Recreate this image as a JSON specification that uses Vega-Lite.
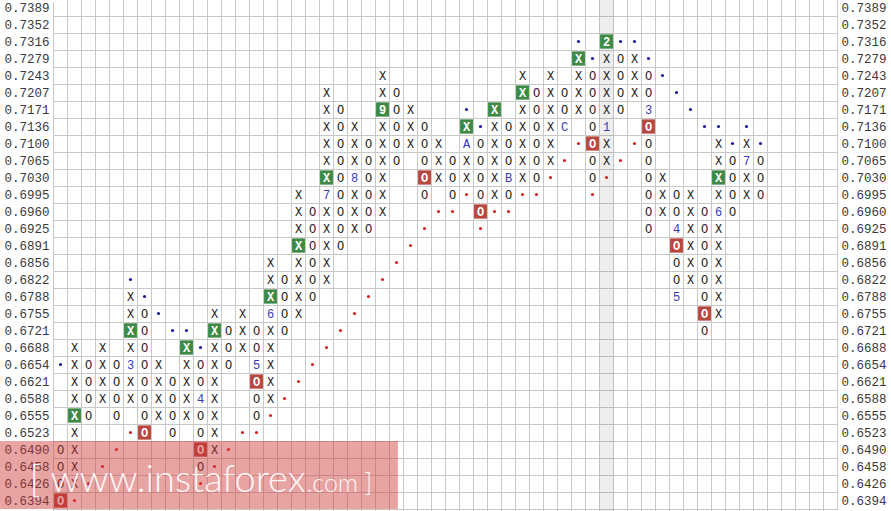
{
"$schema":"https://vega.github.io/schema/vega-lite/v6.json",
"width":891,"height":511,"autosize":{"type":"none"},"padding":0,"background":"white",
"config":{"view":{"stroke":null}},
"datasets":{
"hl":[{"c":39}],
"cells":[
{"c":0,"p":"0.6490","s":"O","k":"n"},{"c":0,"p":"0.6458","s":"O","k":"n"},{"c":0,"p":"0.6426","s":"O","k":"n"},{"c":0,"p":"0.6394","s":"O","k":"r"},
{"c":1,"p":"0.6688","s":"X","k":"n"},{"c":1,"p":"0.6654","s":"X","k":"n"},{"c":1,"p":"0.6621","s":"X","k":"n"},{"c":1,"p":"0.6588","s":"X","k":"n"},{"c":1,"p":"0.6555","s":"X","k":"g"},{"c":1,"p":"0.6523","s":"X","k":"n"},{"c":1,"p":"0.6490","s":"X","k":"n"},{"c":1,"p":"0.6458","s":"X","k":"n"},{"c":1,"p":"0.6426","s":"X","k":"n"},
{"c":2,"p":"0.6654","s":"O","k":"n"},{"c":2,"p":"0.6621","s":"O","k":"n"},{"c":2,"p":"0.6588","s":"O","k":"n"},{"c":2,"p":"0.6555","s":"O","k":"n"},
{"c":3,"p":"0.6688","s":"X","k":"n"},{"c":3,"p":"0.6654","s":"X","k":"n"},{"c":3,"p":"0.6621","s":"X","k":"n"},{"c":3,"p":"0.6588","s":"X","k":"n"},
{"c":4,"p":"0.6654","s":"O","k":"n"},{"c":4,"p":"0.6621","s":"O","k":"n"},{"c":4,"p":"0.6588","s":"O","k":"n"},{"c":4,"p":"0.6555","s":"O","k":"n"},
{"c":5,"p":"0.6788","s":"X","k":"n"},{"c":5,"p":"0.6755","s":"X","k":"n"},{"c":5,"p":"0.6721","s":"X","k":"g"},{"c":5,"p":"0.6688","s":"X","k":"n"},{"c":5,"p":"0.6654","s":"3","k":"m"},{"c":5,"p":"0.6621","s":"X","k":"n"},{"c":5,"p":"0.6588","s":"X","k":"n"},
{"c":6,"p":"0.6755","s":"O","k":"n"},{"c":6,"p":"0.6721","s":"O","k":"n"},{"c":6,"p":"0.6688","s":"O","k":"n"},{"c":6,"p":"0.6654","s":"O","k":"n"},{"c":6,"p":"0.6621","s":"O","k":"n"},{"c":6,"p":"0.6588","s":"O","k":"n"},{"c":6,"p":"0.6555","s":"O","k":"n"},{"c":6,"p":"0.6523","s":"O","k":"r"},
{"c":7,"p":"0.6654","s":"X","k":"n"},{"c":7,"p":"0.6621","s":"X","k":"n"},{"c":7,"p":"0.6588","s":"X","k":"n"},{"c":7,"p":"0.6555","s":"X","k":"n"},
{"c":8,"p":"0.6621","s":"O","k":"n"},{"c":8,"p":"0.6588","s":"O","k":"n"},{"c":8,"p":"0.6555","s":"O","k":"n"},{"c":8,"p":"0.6523","s":"O","k":"n"},
{"c":9,"p":"0.6688","s":"X","k":"g"},{"c":9,"p":"0.6654","s":"X","k":"n"},{"c":9,"p":"0.6621","s":"X","k":"n"},{"c":9,"p":"0.6588","s":"X","k":"n"},{"c":9,"p":"0.6555","s":"X","k":"n"},
{"c":10,"p":"0.6654","s":"O","k":"n"},{"c":10,"p":"0.6621","s":"O","k":"n"},{"c":10,"p":"0.6588","s":"4","k":"m"},{"c":10,"p":"0.6555","s":"O","k":"n"},{"c":10,"p":"0.6523","s":"O","k":"n"},{"c":10,"p":"0.6490","s":"O","k":"r"},{"c":10,"p":"0.6458","s":"O","k":"n"},
{"c":11,"p":"0.6755","s":"X","k":"n"},{"c":11,"p":"0.6721","s":"X","k":"g"},{"c":11,"p":"0.6688","s":"X","k":"n"},{"c":11,"p":"0.6654","s":"X","k":"n"},{"c":11,"p":"0.6621","s":"X","k":"n"},{"c":11,"p":"0.6588","s":"X","k":"n"},{"c":11,"p":"0.6555","s":"X","k":"n"},{"c":11,"p":"0.6523","s":"X","k":"n"},{"c":11,"p":"0.6490","s":"X","k":"n"},
{"c":12,"p":"0.6721","s":"O","k":"n"},{"c":12,"p":"0.6688","s":"O","k":"n"},{"c":12,"p":"0.6654","s":"O","k":"n"},
{"c":13,"p":"0.6755","s":"X","k":"n"},{"c":13,"p":"0.6721","s":"X","k":"n"},{"c":13,"p":"0.6688","s":"X","k":"n"},
{"c":14,"p":"0.6721","s":"O","k":"n"},{"c":14,"p":"0.6688","s":"O","k":"n"},{"c":14,"p":"0.6654","s":"5","k":"m"},{"c":14,"p":"0.6621","s":"O","k":"r"},{"c":14,"p":"0.6588","s":"O","k":"n"},{"c":14,"p":"0.6555","s":"O","k":"n"},
{"c":15,"p":"0.6856","s":"X","k":"n"},{"c":15,"p":"0.6822","s":"X","k":"n"},{"c":15,"p":"0.6788","s":"X","k":"g"},{"c":15,"p":"0.6755","s":"6","k":"m"},{"c":15,"p":"0.6721","s":"X","k":"n"},{"c":15,"p":"0.6688","s":"X","k":"n"},{"c":15,"p":"0.6654","s":"X","k":"n"},{"c":15,"p":"0.6621","s":"X","k":"n"},{"c":15,"p":"0.6588","s":"X","k":"n"},
{"c":16,"p":"0.6822","s":"O","k":"n"},{"c":16,"p":"0.6788","s":"O","k":"n"},{"c":16,"p":"0.6755","s":"O","k":"n"},{"c":16,"p":"0.6721","s":"O","k":"n"},
{"c":17,"p":"0.6995","s":"X","k":"n"},{"c":17,"p":"0.6960","s":"X","k":"n"},{"c":17,"p":"0.6925","s":"X","k":"n"},{"c":17,"p":"0.6891","s":"X","k":"g"},{"c":17,"p":"0.6856","s":"X","k":"n"},{"c":17,"p":"0.6822","s":"X","k":"n"},{"c":17,"p":"0.6788","s":"X","k":"n"},{"c":17,"p":"0.6755","s":"X","k":"n"},
{"c":18,"p":"0.6960","s":"O","k":"n"},{"c":18,"p":"0.6925","s":"O","k":"n"},{"c":18,"p":"0.6891","s":"O","k":"n"},{"c":18,"p":"0.6856","s":"O","k":"n"},{"c":18,"p":"0.6822","s":"O","k":"n"},{"c":18,"p":"0.6788","s":"O","k":"n"},
{"c":19,"p":"0.7207","s":"X","k":"n"},{"c":19,"p":"0.7171","s":"X","k":"n"},{"c":19,"p":"0.7136","s":"X","k":"n"},{"c":19,"p":"0.7100","s":"X","k":"n"},{"c":19,"p":"0.7065","s":"X","k":"n"},{"c":19,"p":"0.7030","s":"X","k":"g"},{"c":19,"p":"0.6995","s":"7","k":"m"},{"c":19,"p":"0.6960","s":"X","k":"n"},{"c":19,"p":"0.6925","s":"X","k":"n"},{"c":19,"p":"0.6891","s":"X","k":"n"},{"c":19,"p":"0.6856","s":"X","k":"n"},{"c":19,"p":"0.6822","s":"X","k":"n"},
{"c":20,"p":"0.7171","s":"O","k":"n"},{"c":20,"p":"0.7136","s":"O","k":"n"},{"c":20,"p":"0.7100","s":"O","k":"n"},{"c":20,"p":"0.7065","s":"O","k":"n"},{"c":20,"p":"0.7030","s":"O","k":"n"},{"c":20,"p":"0.6995","s":"O","k":"n"},{"c":20,"p":"0.6960","s":"O","k":"n"},{"c":20,"p":"0.6925","s":"O","k":"n"},{"c":20,"p":"0.6891","s":"O","k":"n"},
{"c":21,"p":"0.7136","s":"X","k":"n"},{"c":21,"p":"0.7100","s":"X","k":"n"},{"c":21,"p":"0.7065","s":"X","k":"n"},{"c":21,"p":"0.7030","s":"8","k":"m"},{"c":21,"p":"0.6995","s":"X","k":"n"},{"c":21,"p":"0.6960","s":"X","k":"n"},{"c":21,"p":"0.6925","s":"X","k":"n"},
{"c":22,"p":"0.7100","s":"O","k":"n"},{"c":22,"p":"0.7065","s":"O","k":"n"},{"c":22,"p":"0.7030","s":"O","k":"n"},{"c":22,"p":"0.6995","s":"O","k":"n"},{"c":22,"p":"0.6960","s":"O","k":"n"},{"c":22,"p":"0.6925","s":"O","k":"n"},
{"c":23,"p":"0.7243","s":"X","k":"n"},{"c":23,"p":"0.7207","s":"X","k":"n"},{"c":23,"p":"0.7171","s":"9","k":"g"},{"c":23,"p":"0.7136","s":"X","k":"n"},{"c":23,"p":"0.7100","s":"X","k":"n"},{"c":23,"p":"0.7065","s":"X","k":"n"},{"c":23,"p":"0.7030","s":"X","k":"n"},{"c":23,"p":"0.6995","s":"X","k":"n"},{"c":23,"p":"0.6960","s":"X","k":"n"},
{"c":24,"p":"0.7207","s":"O","k":"n"},{"c":24,"p":"0.7171","s":"O","k":"n"},{"c":24,"p":"0.7136","s":"O","k":"n"},{"c":24,"p":"0.7100","s":"O","k":"n"},{"c":24,"p":"0.7065","s":"O","k":"n"},
{"c":25,"p":"0.7171","s":"X","k":"n"},{"c":25,"p":"0.7136","s":"X","k":"n"},{"c":25,"p":"0.7100","s":"X","k":"n"},
{"c":26,"p":"0.7136","s":"O","k":"n"},{"c":26,"p":"0.7100","s":"O","k":"n"},{"c":26,"p":"0.7065","s":"O","k":"n"},{"c":26,"p":"0.7030","s":"O","k":"r"},{"c":26,"p":"0.6995","s":"O","k":"n"},
{"c":27,"p":"0.7100","s":"X","k":"n"},{"c":27,"p":"0.7065","s":"X","k":"n"},{"c":27,"p":"0.7030","s":"X","k":"n"},
{"c":28,"p":"0.7065","s":"O","k":"n"},{"c":28,"p":"0.7030","s":"O","k":"n"},{"c":28,"p":"0.6995","s":"O","k":"n"},
{"c":29,"p":"0.7136","s":"X","k":"g"},{"c":29,"p":"0.7100","s":"A","k":"m"},{"c":29,"p":"0.7065","s":"X","k":"n"},{"c":29,"p":"0.7030","s":"X","k":"n"},
{"c":30,"p":"0.7100","s":"O","k":"n"},{"c":30,"p":"0.7065","s":"O","k":"n"},{"c":30,"p":"0.7030","s":"O","k":"n"},{"c":30,"p":"0.6995","s":"O","k":"n"},{"c":30,"p":"0.6960","s":"O","k":"r"},
{"c":31,"p":"0.7171","s":"X","k":"g"},{"c":31,"p":"0.7136","s":"X","k":"n"},{"c":31,"p":"0.7100","s":"X","k":"n"},{"c":31,"p":"0.7065","s":"X","k":"n"},{"c":31,"p":"0.7030","s":"X","k":"n"},{"c":31,"p":"0.6995","s":"X","k":"n"},
{"c":32,"p":"0.7136","s":"O","k":"n"},{"c":32,"p":"0.7100","s":"O","k":"n"},{"c":32,"p":"0.7065","s":"O","k":"n"},{"c":32,"p":"0.7030","s":"B","k":"m"},{"c":32,"p":"0.6995","s":"O","k":"n"},
{"c":33,"p":"0.7243","s":"X","k":"n"},{"c":33,"p":"0.7207","s":"X","k":"g"},{"c":33,"p":"0.7171","s":"X","k":"n"},{"c":33,"p":"0.7136","s":"X","k":"n"},{"c":33,"p":"0.7100","s":"X","k":"n"},{"c":33,"p":"0.7065","s":"X","k":"n"},{"c":33,"p":"0.7030","s":"X","k":"n"},
{"c":34,"p":"0.7207","s":"O","k":"n"},{"c":34,"p":"0.7171","s":"O","k":"n"},{"c":34,"p":"0.7136","s":"O","k":"n"},{"c":34,"p":"0.7100","s":"O","k":"n"},{"c":34,"p":"0.7065","s":"O","k":"n"},{"c":34,"p":"0.7030","s":"O","k":"n"},
{"c":35,"p":"0.7243","s":"X","k":"n"},{"c":35,"p":"0.7207","s":"X","k":"n"},{"c":35,"p":"0.7171","s":"X","k":"n"},{"c":35,"p":"0.7136","s":"X","k":"n"},{"c":35,"p":"0.7100","s":"X","k":"n"},{"c":35,"p":"0.7065","s":"X","k":"n"},
{"c":36,"p":"0.7207","s":"O","k":"n"},{"c":36,"p":"0.7171","s":"O","k":"n"},{"c":36,"p":"0.7136","s":"C","k":"m"},
{"c":37,"p":"0.7279","s":"X","k":"g"},{"c":37,"p":"0.7243","s":"X","k":"n"},{"c":37,"p":"0.7207","s":"X","k":"n"},{"c":37,"p":"0.7171","s":"X","k":"n"},
{"c":38,"p":"0.7243","s":"O","k":"n"},{"c":38,"p":"0.7207","s":"O","k":"n"},{"c":38,"p":"0.7171","s":"O","k":"n"},{"c":38,"p":"0.7136","s":"O","k":"n"},{"c":38,"p":"0.7100","s":"O","k":"r"},{"c":38,"p":"0.7065","s":"O","k":"n"},{"c":38,"p":"0.7030","s":"O","k":"n"},
{"c":39,"p":"0.7316","s":"2","k":"g"},{"c":39,"p":"0.7279","s":"X","k":"n"},{"c":39,"p":"0.7243","s":"X","k":"n"},{"c":39,"p":"0.7207","s":"X","k":"n"},{"c":39,"p":"0.7171","s":"X","k":"n"},{"c":39,"p":"0.7136","s":"1","k":"m"},{"c":39,"p":"0.7100","s":"X","k":"n"},{"c":39,"p":"0.7065","s":"X","k":"n"},
{"c":40,"p":"0.7279","s":"O","k":"n"},{"c":40,"p":"0.7243","s":"O","k":"n"},{"c":40,"p":"0.7207","s":"O","k":"n"},{"c":40,"p":"0.7171","s":"O","k":"n"},
{"c":41,"p":"0.7279","s":"X","k":"n"},{"c":41,"p":"0.7243","s":"X","k":"n"},{"c":41,"p":"0.7207","s":"X","k":"n"},
{"c":42,"p":"0.7243","s":"O","k":"n"},{"c":42,"p":"0.7207","s":"O","k":"n"},{"c":42,"p":"0.7171","s":"3","k":"m"},{"c":42,"p":"0.7136","s":"O","k":"r"},{"c":42,"p":"0.7100","s":"O","k":"n"},{"c":42,"p":"0.7065","s":"O","k":"n"},{"c":42,"p":"0.7030","s":"O","k":"n"},{"c":42,"p":"0.6995","s":"O","k":"n"},{"c":42,"p":"0.6960","s":"O","k":"n"},{"c":42,"p":"0.6925","s":"O","k":"n"},
{"c":43,"p":"0.7030","s":"X","k":"n"},{"c":43,"p":"0.6995","s":"X","k":"n"},{"c":43,"p":"0.6960","s":"X","k":"n"},
{"c":44,"p":"0.6995","s":"O","k":"n"},{"c":44,"p":"0.6960","s":"O","k":"n"},{"c":44,"p":"0.6925","s":"4","k":"m"},{"c":44,"p":"0.6891","s":"O","k":"r"},{"c":44,"p":"0.6856","s":"O","k":"n"},{"c":44,"p":"0.6822","s":"O","k":"n"},{"c":44,"p":"0.6788","s":"5","k":"m"},
{"c":45,"p":"0.6995","s":"X","k":"n"},{"c":45,"p":"0.6960","s":"X","k":"n"},{"c":45,"p":"0.6925","s":"X","k":"n"},{"c":45,"p":"0.6891","s":"X","k":"n"},{"c":45,"p":"0.6856","s":"X","k":"n"},{"c":45,"p":"0.6822","s":"X","k":"n"},
{"c":46,"p":"0.6960","s":"O","k":"n"},{"c":46,"p":"0.6925","s":"O","k":"n"},{"c":46,"p":"0.6891","s":"O","k":"n"},{"c":46,"p":"0.6856","s":"O","k":"n"},{"c":46,"p":"0.6822","s":"O","k":"n"},{"c":46,"p":"0.6788","s":"O","k":"n"},{"c":46,"p":"0.6755","s":"O","k":"r"},{"c":46,"p":"0.6721","s":"O","k":"n"},
{"c":47,"p":"0.7100","s":"X","k":"n"},{"c":47,"p":"0.7065","s":"X","k":"n"},{"c":47,"p":"0.7030","s":"X","k":"g"},{"c":47,"p":"0.6995","s":"X","k":"n"},{"c":47,"p":"0.6960","s":"6","k":"m"},{"c":47,"p":"0.6925","s":"X","k":"n"},{"c":47,"p":"0.6891","s":"X","k":"n"},{"c":47,"p":"0.6856","s":"X","k":"n"},{"c":47,"p":"0.6822","s":"X","k":"n"},{"c":47,"p":"0.6788","s":"X","k":"n"},{"c":47,"p":"0.6755","s":"X","k":"n"},
{"c":48,"p":"0.7065","s":"O","k":"n"},{"c":48,"p":"0.7030","s":"O","k":"n"},{"c":48,"p":"0.6995","s":"O","k":"n"},{"c":48,"p":"0.6960","s":"O","k":"n"},
{"c":49,"p":"0.7100","s":"X","k":"n"},{"c":49,"p":"0.7065","s":"7","k":"m"},{"c":49,"p":"0.7030","s":"X","k":"n"},{"c":49,"p":"0.6995","s":"X","k":"n"},
{"c":50,"p":"0.7065","s":"O","k":"n"},{"c":50,"p":"0.7030","s":"O","k":"n"},{"c":50,"p":"0.6995","s":"O","k":"n"}
],
"dots":[
{"c":0,"p":"0.6654","k":"b"},{"c":5,"p":"0.6822","k":"b"},{"c":6,"p":"0.6788","k":"b"},{"c":7,"p":"0.6755","k":"b"},{"c":8,"p":"0.6721","k":"b"},{"c":9,"p":"0.6721","k":"b"},{"c":10,"p":"0.6688","k":"b"},{"c":29,"p":"0.7171","k":"b"},{"c":30,"p":"0.7136","k":"b"},{"c":37,"p":"0.7316","k":"b"},{"c":38,"p":"0.7279","k":"b"},{"c":40,"p":"0.7316","k":"b"},{"c":41,"p":"0.7316","k":"b"},{"c":42,"p":"0.7279","k":"b"},{"c":43,"p":"0.7243","k":"b"},{"c":44,"p":"0.7207","k":"b"},{"c":45,"p":"0.7171","k":"b"},{"c":46,"p":"0.7136","k":"b"},{"c":47,"p":"0.7136","k":"b"},{"c":49,"p":"0.7136","k":"b"},{"c":48,"p":"0.7100","k":"b"},{"c":50,"p":"0.7100","k":"b"},
{"c":1,"p":"0.6394","k":"r"},{"c":2,"p":"0.6426","k":"r"},{"c":3,"p":"0.6458","k":"r"},{"c":4,"p":"0.6490","k":"r"},{"c":5,"p":"0.6523","k":"r"},{"c":10,"p":"0.6426","k":"r"},{"c":11,"p":"0.6458","k":"r"},{"c":12,"p":"0.6490","k":"r"},{"c":13,"p":"0.6523","k":"r"},{"c":14,"p":"0.6523","k":"r"},{"c":15,"p":"0.6555","k":"r"},{"c":16,"p":"0.6588","k":"r"},{"c":17,"p":"0.6621","k":"r"},{"c":18,"p":"0.6654","k":"r"},{"c":19,"p":"0.6688","k":"r"},{"c":20,"p":"0.6721","k":"r"},{"c":21,"p":"0.6755","k":"r"},{"c":22,"p":"0.6788","k":"r"},{"c":23,"p":"0.6822","k":"r"},{"c":24,"p":"0.6856","k":"r"},{"c":25,"p":"0.6891","k":"r"},{"c":26,"p":"0.6925","k":"r"},{"c":27,"p":"0.6960","k":"r"},{"c":28,"p":"0.6960","k":"r"},{"c":29,"p":"0.6995","k":"r"},{"c":30,"p":"0.6925","k":"r"},{"c":31,"p":"0.6960","k":"r"},{"c":32,"p":"0.6960","k":"r"},{"c":33,"p":"0.6995","k":"r"},{"c":34,"p":"0.6995","k":"r"},{"c":35,"p":"0.7030","k":"r"},{"c":36,"p":"0.7065","k":"r"},{"c":37,"p":"0.7100","k":"r"},{"c":38,"p":"0.6995","k":"r"},{"c":39,"p":"0.7030","k":"r"},{"c":40,"p":"0.7065","k":"r"},{"c":41,"p":"0.7100","k":"r"}
],
"wm":[{"c":24,"p":"0.6490"},{"c":24,"p":"0.6458"},{"c":24,"p":"0.6426"},{"c":24,"p":"0.6394"}],
"wmt":[{"c":18,"p":"0.6426","t":"[ www.instaforex"}],
"wmt2":[{"c":18,"p":"0.6426","t":".com ]"}]
},
"layer":[
{"data":{"name":"hl"},"mark":{"type":"rect","fill":"#000000","opacity":0.065},
 "encoding":{"x":{"field":"c","type":"ordinal","scale":{"domain":[0,1,2,3,4,5,6,7,8,9,10,11,12,13,14,15,16,17,18,19,20,21,22,23,24,25,26,27,28,29,30,31,32,33,34,35,36,37,38,39,40,41,42,43,44,45,46,47,48,49,50,51,52,53,54,55],"range":[53.5,837.5],"paddingInner":0,"paddingOuter":0},"axis":null}}},
{"data":{"name":"cells"},"transform":[{"filter":"datum.k==='g'||datum.k==='r'"}],
 "mark":{"type":"rect","width":{"band":0.92},"height":{"band":0.84}},
 "encoding":{
  "x":{"field":"c","type":"ordinal","scale":{"domain":[0,1,2,3,4,5,6,7,8,9,10,11,12,13,14,15,16,17,18,19,20,21,22,23,24,25,26,27,28,29,30,31,32,33,34,35,36,37,38,39,40,41,42,43,44,45,46,47,48,49,50,51,52,53,54,55],"range":[53.5,837.5],"paddingInner":0,"paddingOuter":0},"axis":null},
  "y":{"field":"p","type":"ordinal","scale":{"domain":["0.7389","0.7352","0.7316","0.7279","0.7243","0.7207","0.7171","0.7136","0.7100","0.7065","0.7030","0.6995","0.6960","0.6925","0.6891","0.6856","0.6822","0.6788","0.6755","0.6721","0.6688","0.6654","0.6621","0.6588","0.6555","0.6523","0.6490","0.6458","0.6426","0.6394"],"range":[-1,509],"paddingInner":0,"paddingOuter":0},"axis":null},
  "color":{"field":"k","type":"nominal","scale":{"domain":["g","r"],"range":["#3d8a47","#b9463f"]},"legend":null}}},
{"data":{"name":"cells"},"transform":[{"filter":"datum.k==='n'||datum.k==='m'"}],
 "mark":{"type":"text","font":"Liberation Mono","fontSize":12,"baseline":"middle","align":"center"},
 "encoding":{
  "x":{"field":"c","type":"ordinal","scale":{"domain":[0,1,2,3,4,5,6,7,8,9,10,11,12,13,14,15,16,17,18,19,20,21,22,23,24,25,26,27,28,29,30,31,32,33,34,35,36,37,38,39,40,41,42,43,44,45,46,47,48,49,50,51,52,53,54,55],"range":[53.5,837.5],"paddingInner":0,"paddingOuter":0},
   "axis":{"orient":"bottom","bandPosition":0,"grid":true,"gridColor":"#c8c8c8","gridOpacity":1,"gridWidth":1,"labels":false,"ticks":false,"domain":false,"title":null}},
  "y":{"field":"p","type":"ordinal","scale":{"domain":["0.7389","0.7352","0.7316","0.7279","0.7243","0.7207","0.7171","0.7136","0.7100","0.7065","0.7030","0.6995","0.6960","0.6925","0.6891","0.6856","0.6822","0.6788","0.6755","0.6721","0.6688","0.6654","0.6621","0.6588","0.6555","0.6523","0.6490","0.6458","0.6426","0.6394"],"range":[-1,509],"paddingInner":0,"paddingOuter":0},
   "axis":{"orient":"left","bandPosition":1,"grid":true,"gridColor":"#c8c8c8","gridOpacity":1,"gridWidth":1,"ticks":false,"tickSize":0,"domain":false,"labelAlign":"left","labelBaseline":"middle","labelPadding":-4,"labelOffset":0,"labelFont":"Liberation Mono","labelFontSize":12.5,"labelColor":"#3a3a3a","title":null}},
  "text":{"field":"s","type":"nominal"},
  "color":{"field":"k","type":"nominal","scale":{"domain":["n","m"],"range":["#222222","#3838b8"]},"legend":null}}},
{"data":{"name":"cells"},"transform":[{"filter":"datum.k==='g'||datum.k==='r'"}],
 "mark":{"type":"text","font":"Liberation Mono","fontSize":12,"fontWeight":"bold","baseline":"middle","align":"center","fill":"#ffffff"},
 "encoding":{
  "x":{"field":"c","type":"ordinal","scale":{"domain":[0,1,2,3,4,5,6,7,8,9,10,11,12,13,14,15,16,17,18,19,20,21,22,23,24,25,26,27,28,29,30,31,32,33,34,35,36,37,38,39,40,41,42,43,44,45,46,47,48,49,50,51,52,53,54,55],"range":[53.5,837.5],"paddingInner":0,"paddingOuter":0},"axis":null},
  "y":{"field":"p","type":"ordinal","scale":{"domain":["0.7389","0.7352","0.7316","0.7279","0.7243","0.7207","0.7171","0.7136","0.7100","0.7065","0.7030","0.6995","0.6960","0.6925","0.6891","0.6856","0.6822","0.6788","0.6755","0.6721","0.6688","0.6654","0.6621","0.6588","0.6555","0.6523","0.6490","0.6458","0.6426","0.6394"],"range":[-1,509],"paddingInner":0,"paddingOuter":0},"axis":null},
  "text":{"field":"s","type":"nominal"}}},
{"data":{"name":"dots"},
 "mark":{"type":"point","filled":true,"size":10,"opacity":1},
 "encoding":{
  "x":{"field":"c","type":"ordinal","scale":{"domain":[0,1,2,3,4,5,6,7,8,9,10,11,12,13,14,15,16,17,18,19,20,21,22,23,24,25,26,27,28,29,30,31,32,33,34,35,36,37,38,39,40,41,42,43,44,45,46,47,48,49,50,51,52,53,54,55],"range":[53.5,837.5],"paddingInner":0,"paddingOuter":0},
   "axis":{"orient":"top","bandPosition":1,"grid":true,"gridColor":"#c8c8c8","gridOpacity":1,"gridWidth":1,"labels":false,"ticks":false,"domain":false,"title":null}},
  "y":{"field":"p","type":"ordinal","scale":{"domain":["0.7389","0.7352","0.7316","0.7279","0.7243","0.7207","0.7171","0.7136","0.7100","0.7065","0.7030","0.6995","0.6960","0.6925","0.6891","0.6856","0.6822","0.6788","0.6755","0.6721","0.6688","0.6654","0.6621","0.6588","0.6555","0.6523","0.6490","0.6458","0.6426","0.6394"],"range":[-1,509],"paddingInner":0,"paddingOuter":0},
   "axis":{"orient":"right","bandPosition":1,"grid":false,"ticks":false,"tickSize":0,"domain":false,"labelAlign":"left","labelBaseline":"middle","labelPadding":-50,"labelOffset":0,"labelFont":"Liberation Mono","labelFontSize":12.5,"labelColor":"#3a3a3a","title":null}},
  "color":{"field":"k","type":"nominal","scale":{"domain":["b","r"],"range":["#1c1c9c","#d42424"]},"legend":null}}},
{"data":{"name":"wm"},
 "mark":{"type":"rect","fill":"#cc3333","opacity":0.45},
 "encoding":{
  "x":{"field":"c","type":"ordinal","bandPosition":0.6,"scale":{"domain":[0,1,2,3,4,5,6,7,8,9,10,11,12,13,14,15,16,17,18,19,20,21,22,23,24,25,26,27,28,29,30,31,32,33,34,35,36,37,38,39,40,41,42,43,44,45,46,47,48,49,50,51,52,53,54,55],"range":[53.5,837.5],"paddingInner":0,"paddingOuter":0},"axis":null},
  "x2":{"value":0},
  "y":{"field":"p","type":"ordinal","scale":{"domain":["0.7389","0.7352","0.7316","0.7279","0.7243","0.7207","0.7171","0.7136","0.7100","0.7065","0.7030","0.6995","0.6960","0.6925","0.6891","0.6856","0.6822","0.6788","0.6755","0.6721","0.6688","0.6654","0.6621","0.6588","0.6555","0.6523","0.6490","0.6458","0.6426","0.6394"],"range":[-1,509],"paddingInner":0,"paddingOuter":0},"axis":null}}},
{"data":{"name":"wmt"},
 "mark":{"type":"text","font":"Lato","fontSize":38,"fontWeight":300,"align":"right","baseline":"alphabetic","fill":"#ffffff","opacity":0.92},
 "encoding":{
  "x":{"field":"c","type":"ordinal","bandPosition":0,"scale":{"domain":[0,1,2,3,4,5,6,7,8,9,10,11,12,13,14,15,16,17,18,19,20,21,22,23,24,25,26,27,28,29,30,31,32,33,34,35,36,37,38,39,40,41,42,43,44,45,46,47,48,49,50,51,52,53,54,55],"range":[53.5,837.5],"paddingInner":0,"paddingOuter":0},"axis":null},
  "y":{"field":"p","type":"ordinal","bandPosition":1,"scale":{"domain":["0.7389","0.7352","0.7316","0.7279","0.7243","0.7207","0.7171","0.7136","0.7100","0.7065","0.7030","0.6995","0.6960","0.6925","0.6891","0.6856","0.6822","0.6788","0.6755","0.6721","0.6688","0.6654","0.6621","0.6588","0.6555","0.6523","0.6490","0.6458","0.6426","0.6394"],"range":[-1,509],"paddingInner":0,"paddingOuter":0},"axis":null},
  "text":{"field":"t","type":"nominal"}}},
{"data":{"name":"wmt2"},
 "mark":{"type":"text","font":"Lato","fontSize":25,"fontWeight":300,"align":"left","baseline":"alphabetic","dx":1,"fill":"#ffffff","opacity":0.92},
 "encoding":{
  "x":{"field":"c","type":"ordinal","bandPosition":0,"scale":{"domain":[0,1,2,3,4,5,6,7,8,9,10,11,12,13,14,15,16,17,18,19,20,21,22,23,24,25,26,27,28,29,30,31,32,33,34,35,36,37,38,39,40,41,42,43,44,45,46,47,48,49,50,51,52,53,54,55],"range":[53.5,837.5],"paddingInner":0,"paddingOuter":0},"axis":null},
  "y":{"field":"p","type":"ordinal","bandPosition":1,"scale":{"domain":["0.7389","0.7352","0.7316","0.7279","0.7243","0.7207","0.7171","0.7136","0.7100","0.7065","0.7030","0.6995","0.6960","0.6925","0.6891","0.6856","0.6822","0.6788","0.6755","0.6721","0.6688","0.6654","0.6621","0.6588","0.6555","0.6523","0.6490","0.6458","0.6426","0.6394"],"range":[-1,509],"paddingInner":0,"paddingOuter":0},"axis":null},
  "text":{"field":"t","type":"nominal"}}}
],
"resolve":{"axis":{"x":"independent","y":"independent"},"scale":{"color":"independent"}}
}
